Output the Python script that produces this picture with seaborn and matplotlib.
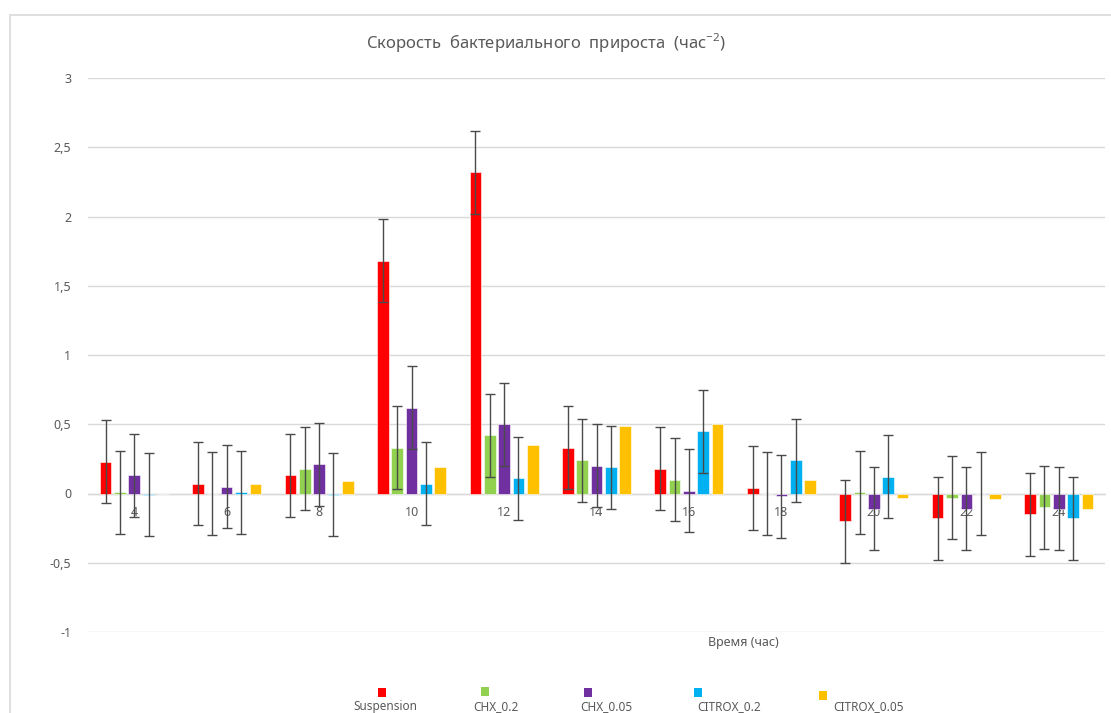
import matplotlib
matplotlib.use("Agg")
import matplotlib.pyplot as plt
import seaborn as sns
import pandas as pd
import numpy as np
from matplotlib.patches import Rectangle

# ---------------- data ----------------
times = ["4", "6", "8", "10", "12", "14", "16", "18", "20", "22", "24"]
series_names = ["Suspension", "CHX_0.2", "CHX_0.05", "CITROX_0.2", "CITROX_0.05"]
control = [0.23, 0.07, 0.13, 1.68, 2.32, 0.33, 0.18, 0.04, -0.20, -0.18, -0.15]
chx_02 = [0.01, 0.00, 0.18, 0.33, 0.42, 0.24, 0.10, 0.00, 0.01, -0.03, -0.10]
chx_005 = [0.13, 0.05, 0.21, 0.62, 0.50, 0.20, 0.02, -0.02, -0.11, -0.11, -0.11]
citrox_02 = [-0.01, 0.01, -0.01, 0.07, 0.11, 0.19, 0.45, 0.24, 0.12, 0.00, -0.18]
citrox_005 = [0.00, 0.07, 0.09, 0.19, 0.35, 0.49, 0.50, 0.10, -0.03, -0.04, -0.11]
err_control = [0.3, 0.3, 0.3, 0.3, 0.3, 0.3, 0.3, 0.3, 0.3, 0.3, 0.3]
err_chx_02 = [0.3, 0.3, 0.3, 0.3, 0.3, 0.3, 0.3, 0.3, 0.3, 0.3, 0.3]
err_chx_005 = [0.3, 0.3, 0.3, 0.3, 0.3, 0.3, 0.3, 0.3, 0.3, 0.3, 0.3]
err_citrox_02 = [0.3, 0.3, 0.3, 0.3, 0.3, 0.3, 0.3, 0.3, 0.3, 0.3, 0.3]
y_ticks = [-1, -0.5, 0, 0.5, 1, 1.5, 2, 2.5, 3]
y_tick_labels = ["-1", "-0,5", "0", "0,5", "1", "1,5", "2", "2,5", "3"]
title = "Скорость  бактериального  прироста  (час$^{\\mathregular{-2}}$)"
x_label = "Время (час)"

colors = ["#FF0000", "#92D050", "#7030A0", "#00B0F0", "#FFC000"]
all_values = [control, chx_02, chx_005, citrox_02, citrox_005]
all_errors = [err_control, err_chx_02, err_chx_005, err_citrox_02, None]

rows = []
for name, vals in zip(series_names, all_values):
    for t, v in zip(times, vals):
        rows.append({"time": t, "series": name, "value": v})
df = pd.DataFrame(rows)

# ---------------- style ----------------
sns.set_theme(style="white")
plt.rcParams["font.family"] = ["Noto Sans", "DejaVu Sans"]
plt.rcParams["mathtext.fontset"] = "custom"
plt.rcParams["mathtext.rm"] = "Noto Sans"
text_col = "#595959"
grid_col = "#d9d9d9"

W, H = 1111, 713
fig = plt.figure(figsize=(W / 100, H / 100), dpi=100)
ax = fig.add_axes([88 / W, 1 - 632 / H, (1105 - 88) / W, (632 - 78) / H])

sns.barplot(data=df, x="time", y="value", hue="series", order=times,
            hue_order=series_names, palette=colors, width=0.775, gap=0.19,
            errorbar=None, legend=False, ax=ax, saturation=1,
            edgecolor="white", linewidth=0.4, zorder=2)

# error bars on library-placed bars
for cont, errs in zip(ax.containers, all_errors):
    if errs is None:
        continue
    xs = [p.get_x() + p.get_width() / 2 for p in cont.patches]
    ys = [p.get_y() + p.get_height() for p in cont.patches]
    ax.errorbar(xs, ys, yerr=errs, fmt="none", ecolor="#4a4a4a",
                elinewidth=1.0, capsize=3.8, capthick=1.0, zorder=3)

ax.set_ylim(-1, 3)
ax.set_xlim(-0.5, len(times) - 0.5)
ax.set_yticks(y_ticks)
ax.set_yticklabels(y_tick_labels)
ax.yaxis.grid(True, color=grid_col, linewidth=1.0)
ax.xaxis.grid(False)
ax.set_axisbelow(True)
for s in ["left", "right", "top"]:
    ax.spines[s].set_visible(False)
ax.spines["bottom"].set_position(("data", 0))
ax.spines["bottom"].set_color(grid_col)
ax.spines["bottom"].set_linewidth(1.0)
ax.spines["bottom"].set_zorder(1)
ax.tick_params(axis="y", length=0, pad=12, labelsize=9, labelcolor=text_col)
ax.tick_params(axis="x", length=0, pad=9, labelsize=9, labelcolor=text_col)
ax.set_xlabel("")
ax.set_ylabel("")
ax.text((743 - 88) / (1105 - 88), -0.008, x_label, transform=ax.transAxes,
        ha="center", va="top", fontsize=9, color=text_col)

fig.text(546 / W, 1 - 43 / H, title, ha="center", va="center",
         fontsize=12, color=text_col)

# chart area border (partly cropped)
fig.patches.append(Rectangle((9.5 / W, -0.1), 1.2, 1 - 15 / H + 0.1,
                             transform=fig.transFigure, fill=False,
                             edgecolor=grid_col, linewidth=1.2))

# legend at the bottom of the chart area
marker_x = [382, 485, 588, 698, 823]
marker_y = [692, 691, 692, 692, 695]
text_x = [353, 473, 580, 697, 833]
for name, c, mx, my, tx in zip(series_names, colors, marker_x, marker_y, text_x):
    fig.patches.append(Rectangle(((mx - 4) / W, 1 - (my + 4.5) / H), 8 / W, 9 / H,
                                 transform=fig.transFigure, facecolor=c,
                                 edgecolor="none"))
    fig.text(tx / W, 1 - 710 / H, name, ha="left", va="baseline",
             fontsize=8.5, color=text_col)

fig.savefig("out.png", dpi=100)
